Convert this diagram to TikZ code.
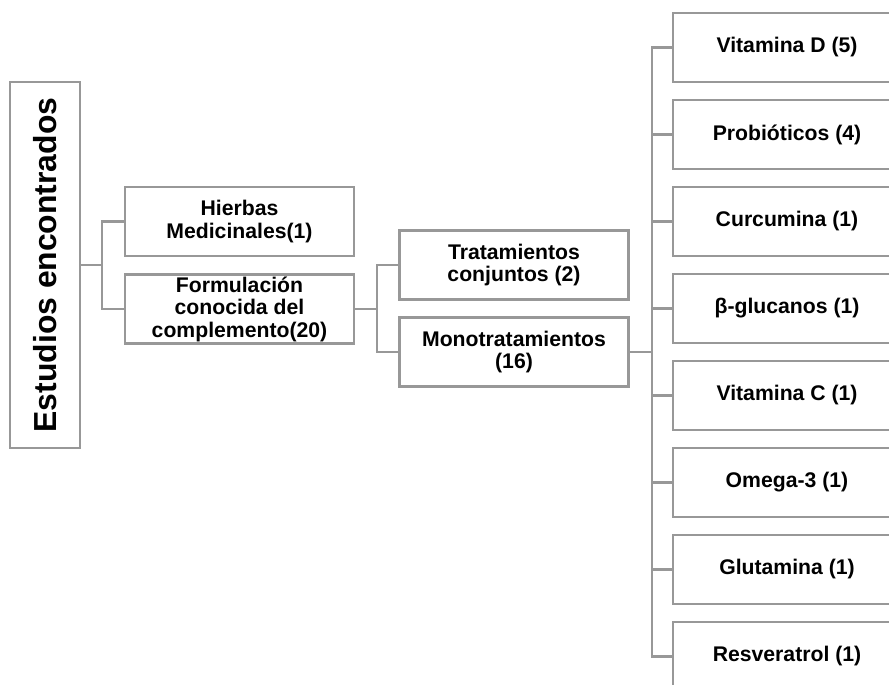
\documentclass[tikz,border=0pt]{standalone}
\usepackage{fontspec}
\setmainfont{Liberation Sans}
\definecolor{boxgray}{RGB}{152,152,152}
\begin{document}
\begin{tikzpicture}[x=0.75pt,y=-0.75pt,
  box/.style={draw=boxgray,line width=2.1pt,fill=white,inner sep=0pt,align=center,
    font=\fontsize{15.9}{16.9}\selectfont\bfseries,text=black},
  midbox/.style={box,minimum width={229*0.75pt},minimum height={69*0.75pt}},
  leafbox/.style={box,minimum width={228*0.75pt},minimum height={69*0.75pt}},
  link/.style={draw=boxgray,line width=2.1pt}]
\useasboundingbox (0,0) rectangle (889,685);
\clip (0,0) rectangle (889,685);
% root
\node[box,minimum width={70*0.75pt},minimum height={366*0.75pt}] (root) at (45,265)
  {\rotatebox{90}{\fontsize{23.9}{26}\selectfont\bfseries Estudios encontrados}};
% level 1
\node[midbox] (hier) at (239.5,221.5) {Hierbas\\Medicinales(1)};
\node[midbox] (form) at (239.5,309) {Formulación\\conocida del\\complemento(20)};
% level 2
\node[midbox] (trat) at (514,265) {Tratamientos\\conjuntos (2)};
\node[midbox] (mono) at (514,352) {Monotratamientos\\(16)};
% level 3
\node[leafbox] (vd) at (787,47.5) {Vitamina D (5)};
\node[leafbox] (pro) at (787,134.5) {Probióticos (4)};
\node[leafbox] (cur) at (787,221.5) {Curcumina (1)};
\node[leafbox] (bg) at (787,308.5) {β-glucanos (1)};
\node[leafbox] (vc) at (787,395.5) {Vitamina C (1)};
\node[leafbox] (om) at (787,482.5) {Omega-3 (1)};
\node[leafbox] (glu) at (787,569.5) {Glutamina (1)};
\node[leafbox] (res) at (787,656.5) {Resveratrol (1)};
% connectors
\coordinate (j1) at (102,265);
\coordinate (j2) at (377,309);
\coordinate (j3) at (652,352);
\draw[link] (root.east) -- (j1);
\draw[link] (hier.west) -| (j1);
\draw[link] (form.west) -| (j1);
\draw[link] (form.east) -- (j2);
\draw[link] (trat.west) -| (j2);
\draw[link] (mono.west) -| (j2);
\draw[link] (mono.east) -- (j3);
\foreach \n in {vd,pro,cur,bg,vc,om,glu,res}{
  \draw[link] (\n.west) -| (j3);
}
\end{tikzpicture}
\end{document}
